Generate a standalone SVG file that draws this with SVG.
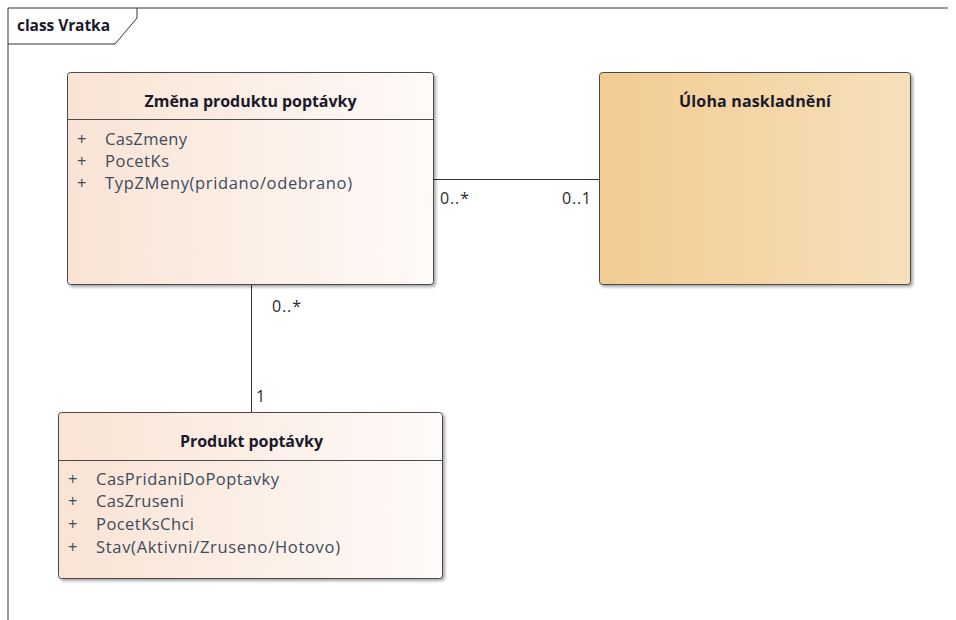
<svg xmlns="http://www.w3.org/2000/svg" width="956" height="620" viewBox="0 0 956 620">
  <defs>
    <linearGradient id="gClass" x1="0" y1="0" x2="1" y2="0">
      <stop offset="0" stop-color="#f9e3d4"/>
      <stop offset="1" stop-color="#fefaf8"/>
    </linearGradient>
    <linearGradient id="gTask" x1="0" y1="0" x2="1" y2="0">
      <stop offset="0" stop-color="#f2cb92"/>
      <stop offset="1" stop-color="#f6e0bb"/>
    </linearGradient>
    <filter id="shadow" x="-5%" y="-5%" width="112%" height="115%">
      <feDropShadow dx="2" dy="2" stdDeviation="1.5" flood-color="#000" flood-opacity="0.35"/>
    </filter>
  </defs>
  <style>
    .box { stroke: #4a4a4a; stroke-width: 1; filter: url(#shadow); }
    .div { stroke: #4a4a4a; stroke-width: 1; }
    .title { font-family: "Open Sans", "Liberation Sans", sans-serif; font-weight: bold; font-size: 16px; fill: #1a1a2a; text-anchor: middle; }
    .attr { font-family: "Open Sans", "Liberation Sans", sans-serif; font-size: 16.5px; fill: #3d4b5c; }
    .lbl { font-family: "Open Sans", "Liberation Sans", sans-serif; font-size: 16px; fill: #2a2a2a; }
    .frame { fill: none; stroke: #333; stroke-width: 1; }
    .conn line { stroke: #333; stroke-width: 1; }
  </style>
  <rect width="956" height="620" fill="#ffffff"/>

  <!-- package frame -->
  <g id="frame">
    <polyline class="frame" points="8,620 8,8 948,8"/>
    <polyline class="frame" points="8,44 115,44 137,18 137,8"/>
    <text x="17" y="31" font-family="Open Sans, Liberation Sans, sans-serif" font-weight="bold" font-size="15.5" fill="#1a1a2a" textLength="93">class Vratka</text>
  </g>

  <!-- associations -->
  <g id="connectors" class="conn">
    <line x1="434" y1="179.5" x2="599" y2="179.5"/>
    <line x1="251.5" y1="285" x2="251.5" y2="412"/>
    <text class="lbl" x="440" y="204" textLength="29">0..*</text>
    <text class="lbl" x="562" y="204" textLength="29">0..1</text>
    <text class="lbl" x="272" y="312" textLength="29">0..*</text>
    <text class="lbl" x="256" y="402">1</text>
  </g>

  <g id="zmena-produktu-poptavky">
    <rect class="box" x="67.5" y="72.5" width="366" height="212" rx="3" fill="url(#gClass)"/>
    <line class="div" x1="67.5" y1="119.5" x2="433.5" y2="119.5"/>
    <text class="title" x="250.5" y="107" textLength="212">Změna produktu poptávky</text>
    <text class="attr" x="77" y="145">+</text>
    <text class="attr" x="105" y="145" textLength="82">CasZmeny</text>
    <text class="attr" x="77" y="167">+</text>
    <text class="attr" x="105" y="167" textLength="64">PocetKs</text>
    <text class="attr" x="77" y="189">+</text>
    <text class="attr" x="105" y="189" textLength="247">TypZMeny(pridano/odebrano)</text>
  </g>

  <g id="uloha-naskladneni">
    <rect class="box" x="599.5" y="72.5" width="311" height="212" rx="3" fill="url(#gTask)"/>
    <text class="title" x="755" y="107" textLength="152">Úloha naskladnění</text>
  </g>

  <g id="produkt-poptavky">
    <rect class="box" x="58.5" y="412.5" width="384" height="166" rx="3" fill="url(#gClass)"/>
    <line class="div" x1="58.5" y1="460.5" x2="442.5" y2="460.5"/>
    <text class="title" x="251.5" y="447" textLength="143">Produkt poptávky</text>
    <text class="attr" x="68" y="485">+</text>
    <text class="attr" x="96" y="485" textLength="183">CasPridaniDoPoptavky</text>
    <text class="attr" x="68" y="507">+</text>
    <text class="attr" x="96" y="507" textLength="88">CasZruseni</text>
    <text class="attr" x="68" y="530">+</text>
    <text class="attr" x="96" y="530" textLength="98">PocetKsChci</text>
    <text class="attr" x="68" y="553">+</text>
    <text class="attr" x="96" y="553" textLength="244">Stav(Aktivni/Zruseno/Hotovo)</text>
  </g>
</svg>
